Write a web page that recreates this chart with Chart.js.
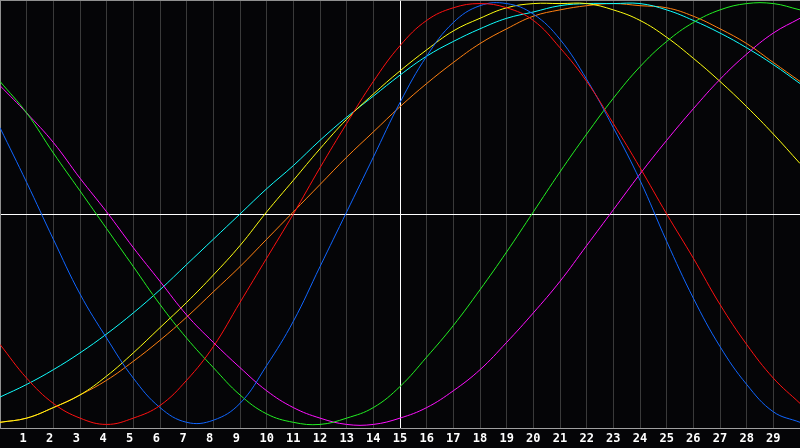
<!DOCTYPE html>
<html>
<head>
<meta charset="utf-8">
<script src="https://cdn.jsdelivr.net/npm/chart.js@4.4.1/dist/chart.umd.min.js"></script>
<style>
  html, body { margin: 0; padding: 0; background: #050507; }
  #wrap { width: 800px; height: 448px; }
</style>
</head>
<body>
<div id="wrap"><canvas id="waves"></canvas></div>
<script>
const days = [0, 1, 2, 3, 4, 5, 6, 7, 8, 9, 10, 11, 12, 13, 14, 15, 16, 17, 18, 19, 20, 21, 22, 23, 24, 25, 26, 27, 28, 29, 30];

const red = [-0.62, -0.78, -0.90, -0.97, -1.00, -0.97, -0.91, -0.79, -0.63, -0.42, -0.21, 0.00, 0.22, 0.43, 0.63, 0.80,
    0.92, 0.98, 1.00, 0.98, 0.92, 0.79, 0.63, 0.43, 0.22, 0.00, -0.21, -0.43, -0.62, -0.78, -0.90];
const blue = [0.41, 0.15, -0.12, -0.38, -0.59, -0.78, -0.92, -0.99, -0.98, -0.90, -0.72, -0.51, -0.25, 0.01, 0.27, 0.53,
    0.75, 0.91, 0.99, 1.00, 0.95, 0.83, 0.64, 0.41, 0.16, -0.13, -0.40, -0.63, -0.81, -0.94, -0.99];
const green = [0.63, 0.48, 0.29, 0.11, -0.07, -0.25, -0.43, -0.59, -0.73, -0.86, -0.95, -0.99, -1.00, -0.97, -0.92, -0.82,
    -0.68, -0.53, -0.36, -0.18, 0.01, 0.20, 0.38, 0.55, 0.70, 0.82, 0.91, 0.97, 1.00, 1.00, 0.97];
const magenta = [0.61, 0.48, 0.34, 0.17, 0.01, -0.16, -0.32, -0.48, -0.61, -0.73, -0.84, -0.92, -0.97, -1.00, -1.00, -0.97,
    -0.92, -0.84, -0.74, -0.61, -0.47, -0.32, -0.15, 0.02, 0.19, 0.35, 0.50, 0.64, 0.76, 0.86, 0.93];
const yellow = [-0.99, -0.97, -0.92, -0.86, -0.77, -0.66, -0.54, -0.42, -0.29, -0.15, 0.01, 0.16, 0.31, 0.45, 0.57, 0.68,
    0.78, 0.87, 0.93, 0.98, 1.00, 1.00, 1.00, 0.97, 0.92, 0.84, 0.74, 0.63, 0.51, 0.38, 0.24];
const cyan = [-0.87, -0.81, -0.74, -0.66, -0.57, -0.47, -0.36, -0.24, -0.12, 0.00, 0.12, 0.23, 0.35, 0.46, 0.56, 0.66,
    0.75, 0.82, 0.88, 0.93, 0.96, 0.99, 1.00, 1.00, 1.00, 0.97, 0.92, 0.86, 0.79, 0.71, 0.62];
const orange = [-0.99, -0.97, -0.92, -0.86, -0.79, -0.70, -0.60, -0.49, -0.37, -0.25, -0.12, 0.01, 0.14, 0.27, 0.39, 0.51,
    0.62, 0.72, 0.81, 0.88, 0.94, 0.97, 0.99, 1.00, 0.99, 0.98, 0.94, 0.88, 0.81, 0.72, 0.63];

const series = [
    { name: 'red', data: red, color: '#ff1010' },
    { name: 'blue', data: blue, color: '#1066ff' },
    { name: 'green', data: green, color: '#22f022' },
    { name: 'magenta', data: magenta, color: '#ff10ff' },
    { name: 'yellow', data: yellow, color: '#ffff10' },
    { name: 'cyan', data: cyan, color: '#10ffff' },
    { name: 'orange', data: orange, color: '#ff8010' }
];

// black backdrop behind the whole canvas
const backdrop = {
    id: 'backdrop',
    beforeDraw(chart) {
        const c = chart.ctx;
        c.save();
        c.fillStyle = '#050507';
        c.fillRect(0, 0, chart.width, chart.height);
        c.restore();
    }
};

const ctx = document.getElementById('waves').getContext('2d');
new Chart(ctx, {
    type: 'line',
    data: {
        labels: days,
        datasets: series.map(s => ({
            label: s.name,
            data: s.data,
            borderColor: s.color,
            borderWidth: 1,
            pointRadius: 0,
            pointHoverRadius: 0,
            pointBorderWidth: 0,
            fill: false,
            tension: 0.4
        }))
    },
    options: {
        responsive: true,
        maintainAspectRatio: false,
        animation: false,
        layout: { padding: 0, autoPadding: false },
        plugins: {
            legend: { display: false },
            tooltip: { enabled: false }
        },
        scales: {
            x: {
                type: 'category',
                offset: false,
                grid: {
                    color: (c) => c.tick && c.tick.value === 15 ? '#ffffff' : '#3a3a3a',
                    lineWidth: 1,
                    drawTicks: false
                },
                border: { color: '#a0a0a0', width: 1 },
                ticks: {
                    autoSkip: false,
                    maxRotation: 0,
                    padding: 0,
                    color: '#ffffff',
                    font: { family: 'DejaVu Sans Mono', size: 12, weight: 'bold', lineHeight: 1.8 },
                    callback: function(val) {
                        const d = days[val];
                        if (d === 0 || d === 30) return '';
                        return d < 10 ? d + ' ' : String(d);
                    }
                },
                afterFit: (scale) => { scale.height = 20; }
            },
            xTop: {
                type: 'linear',
                position: 'top',
                min: 0,
                max: 30,
                grid: { display: false, drawTicks: false },
                border: { color: '#909090', width: 1 },
                ticks: { display: false, padding: 0 }
            },
            y: {
                min: -1.017,
                max: 1.017,
                grid: {
                    color: (c) => c.tick && c.tick.value === 0 ? '#ffffff' : 'rgba(0,0,0,0)',
                    drawTicks: false
                },
                border: { color: '#909090', width: 1 },
                ticks: { display: false, stepSize: 1 }
            }
        }
    },
    plugins: [backdrop]
});
</script>
</body>
</html>
